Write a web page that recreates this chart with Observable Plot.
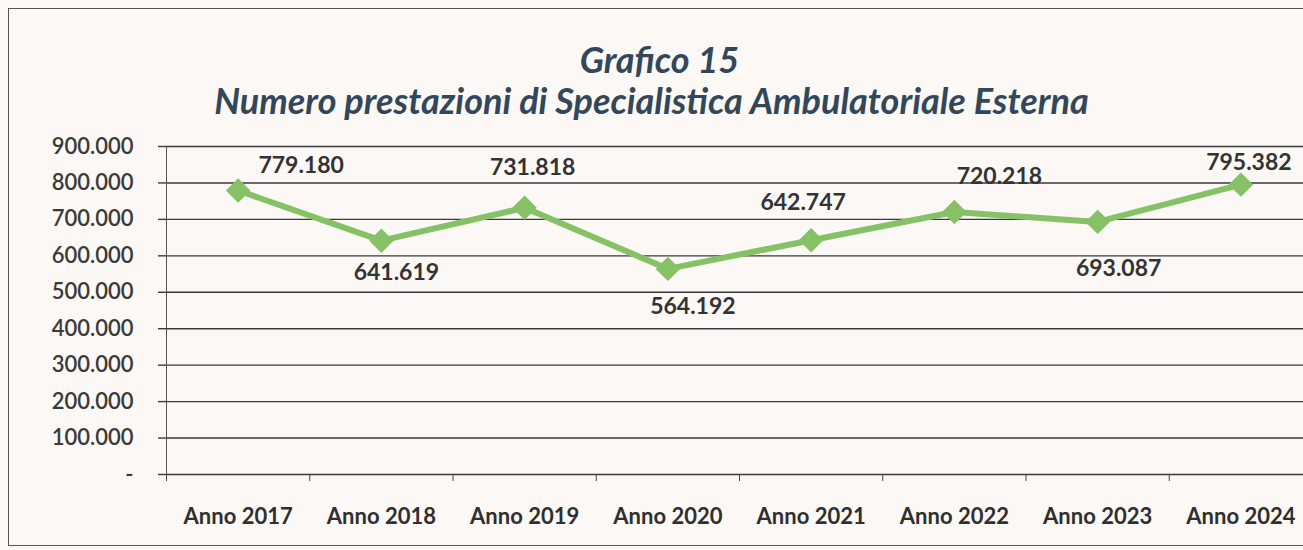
<!DOCTYPE html>
<html>
<head>
<meta charset="utf-8">
<script src="https://cdn.jsdelivr.net/npm/d3@7"></script>
<script src="https://cdn.jsdelivr.net/npm/@observablehq/plot@0.6"></script>
<style>
  html, body { margin: 0; padding: 0; background: #fbf8f5; }
  #wrap { position: relative; width: 1303px; height: 550px; overflow: hidden; background: #fbf8f5; }
  #frame { position: absolute; left: 8px; top: 8px; width: 1310px; height: 538px; border: 1.5px solid #555; box-sizing: border-box; }
  .t { position: absolute; left: 0; width: 1303px; text-align: center; font-family: Lato, "Open Sans", sans-serif; font-style: italic; font-weight: 700; font-size: 36px; color: #33475b; line-height: 44px; margin: 0; }
  #t1 { top: 37px; left: 8px; }
  #t2 { top: 78px; }
  #chart { position: absolute; left: 0; top: 130px; }
</style>
</head>
<body>
<div id="wrap">
  <div id="frame"></div>
  <div class="t" id="t1">Grafico 15</div>
  <div class="t" id="t2">Numero prestazioni di Specialistica Ambulatoriale Esterna</div>
  <div id="chart"></div>
</div>
<script>
const categories = ["Anno 2017", "Anno 2018", "Anno 2019", "Anno 2020", "Anno 2021", "Anno 2022", "Anno 2023", "Anno 2024"];
const values = [779180, 641619, 731818, 564192, 642747, 720218, 693087, 795382];
const yTicks = [0, 100000, 200000, 300000, 400000, 500000, 600000, 700000, 800000, 900000];
// label placement offsets (px) relative to each point, as in the original
const labelDx = [63, 15, 8, 25, -8, 45, 21, 8];
const labelDy = [-25, 32, -40, 38, -38, -35, 47, -22];

const fmt = v => v === 0 ? "-" : d3.format(",")(v).replace(/,/g, ".");
const data = categories.map((c, i) => ({i, c, v: values[i], dx: labelDx[i], dy: labelDy[i]}));
const green = "#86c166";

const chart = Plot.plot({
  width: 1303,
  height: 420,
  marginTop: 16,
  marginBottom: 76,
  marginLeft: 166,
  marginRight: 0,
  style: {background: "transparent", fontFamily: "Lato, 'Open Sans', sans-serif", color: "#3a3a3a", overflow: "visible"},
  x: {type: "linear", domain: [-0.5, 7.5], range: [166, 1312]},
  y: {domain: [0, 900000]},
  marks: [
    Plot.gridY(yTicks, {stroke: "#3a3a3a", strokeOpacity: 1, strokeWidth: 1.4}),
    Plot.frame({anchor: "left", stroke: "#555", strokeWidth: 1}),
    Plot.axisY({ticks: yTicks, tickFormat: fmt, tickSize: 8, tickPadding: 25, fontSize: 22, fontWeight: 600, stroke: "#3a3a3a", strokeWidth: 1.4, fill: "#3a3a3a", label: null}),
    Plot.axisX({ticks: d3.range(-0.5, 8, 1), tickFormat: () => "", tickSize: 7, stroke: "#444", label: null}),
    Plot.axisX({ticks: d3.range(0, 8), tickFormat: i => categories[i], tickSize: 0, tickPadding: 34, fontSize: 22, fontWeight: 700, fill: "#2f2f2f", label: null}),
    Plot.line(data, {x: "i", y: "v", stroke: green, strokeWidth: 6, strokeLinejoin: "round"}),
    Plot.dot(data, {x: "i", y: "v", symbol: "diamond2", r: 11, fill: green, stroke: "none"}),
    ...data.map(d => Plot.text([d], {x: "i", y: "v", text: d => fmt(d.v), dx: d.dx, dy: d.dy, fontSize: 23, fontWeight: 700, fill: "#333"}))
  ]
});
document.getElementById("chart").appendChild(chart);
</script>
</body>
</html>
